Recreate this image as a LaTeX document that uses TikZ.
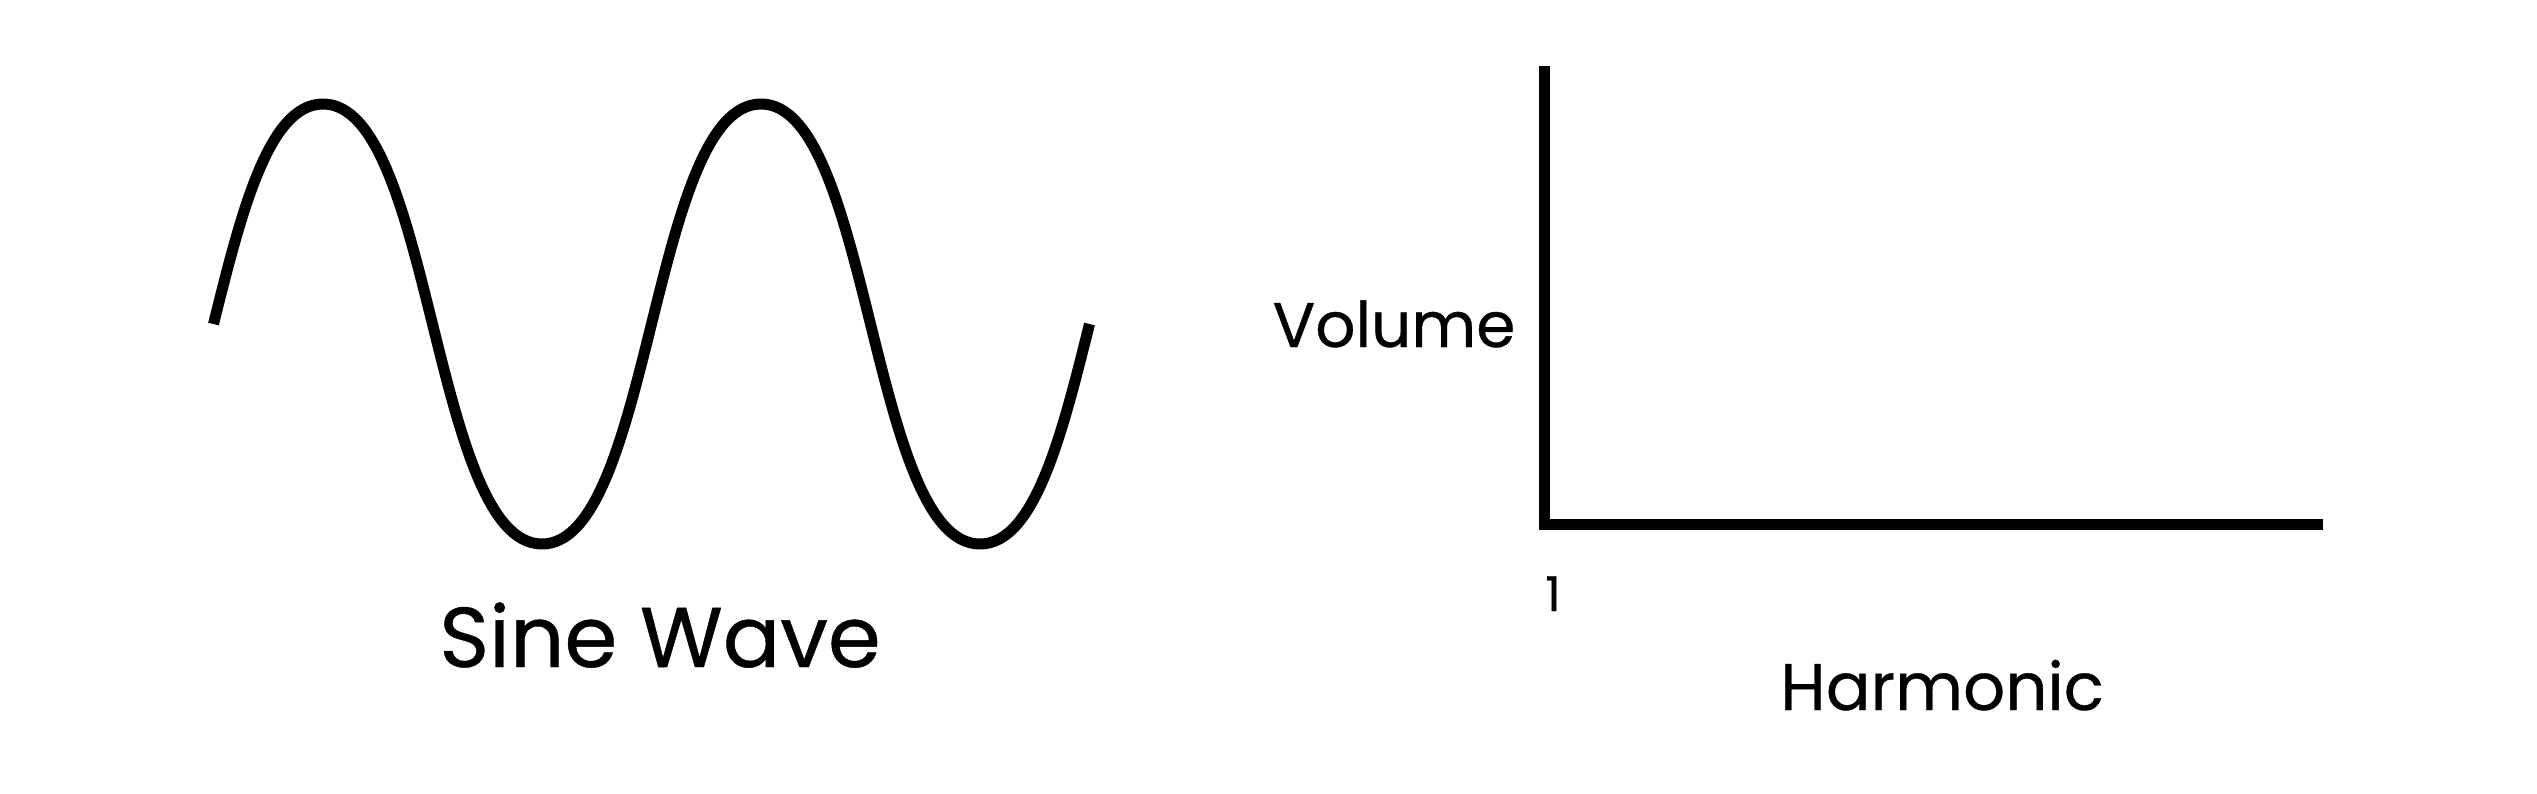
\documentclass[tikz,border=0pt]{standalone}
\usepackage{fontspec}
\setmainfont{Poppins}[FakeBold=0.5]
\tikzset{
  wave/.style={line width=11pt, line cap=butt, line join=round},
  axisline/.style={line width=11pt, line cap=butt, line join=miter},
  lbl/.style={inner sep=0pt, anchor=base, text=black},
}
\begin{document}
\begin{tikzpicture}[x=1pt,y=-1pt]
\useasboundingbox (0,0) rectangle (2537,793);
% sine wave (cubic segments between extremes)
\coordinate (w0) at (213.5,324);
\coordinate (p1) at (323,104);
\coordinate (t1) at (542,544);
\coordinate (p2) at (761,104);
\coordinate (t2) at (980,544);
\coordinate (w5) at (1089.5,324);
\draw[wave] (w0) .. controls (240.9,214) and (268.25,104) .. (p1)
  .. controls (432.5,104) and (432.5,544) .. (t1)
  .. controls (651.5,544) and (651.5,104) .. (p2)
  .. controls (870.5,104) and (870.5,544) .. (t2)
  .. controls (1034.75,544) and (1062.1,434) .. (w5);
\node[lbl, font=\fontsize{85}{100}\selectfont] (sinelbl) at (660,667) {Sine Wave};
% axes
\coordinate (ytop) at (1544,66);
\coordinate (origin) at (1544,524);
\coordinate (xend) at (2323,524);
\draw[axisline] (ytop) -- (origin) -- (xend);
\node[lbl, font=\fontsize{63}{78}\selectfont] (vol) at (1394,347) {Volume};
\node[lbl, font=\fontsize{48}{56}\selectfont] (one) at (1553,611) {1};
\node[lbl, font=\fontsize{66}{80}\selectfont] (harm) at (1942,710) {Harmonic};
\end{tikzpicture}
\end{document}
